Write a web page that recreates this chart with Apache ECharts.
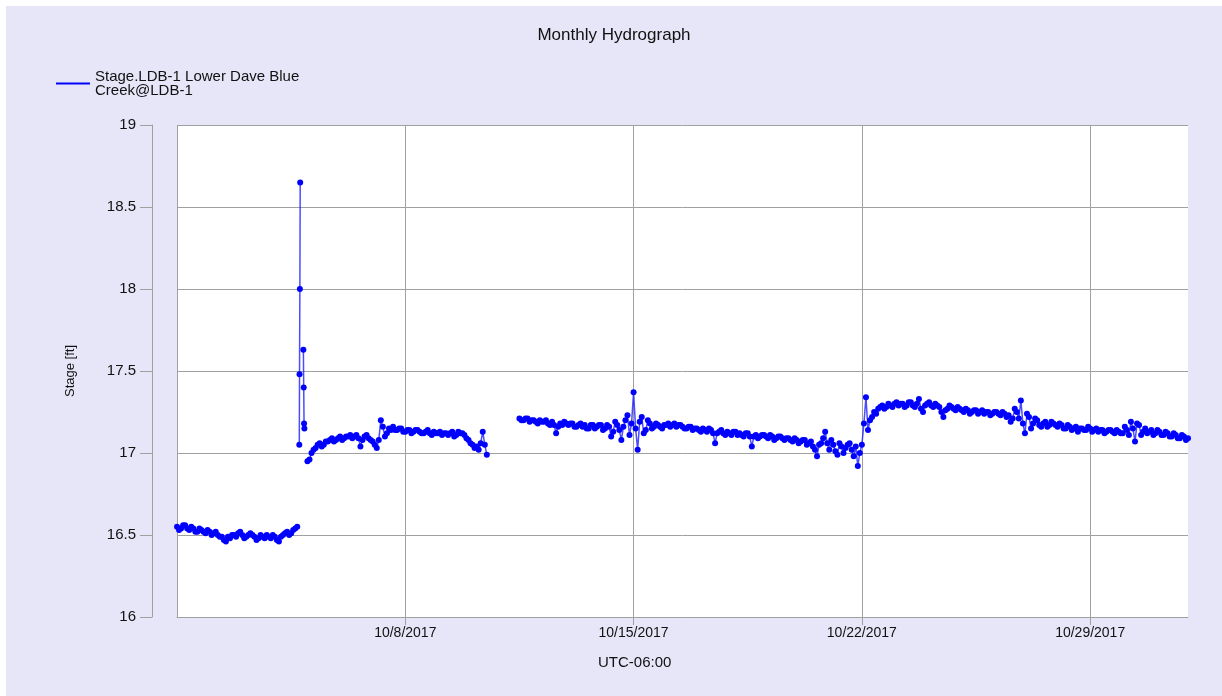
<!DOCTYPE html>
<html>
<head>
<meta charset="utf-8">
<title>Monthly Hydrograph</title>
<script src="https://cdn.jsdelivr.net/npm/echarts@6/dist/echarts.min.js"></script>
<style>
  html, body { margin: 0; padding: 0; background: #fff; }
  #chart { position: absolute; left: 6px; top: 6px; width: 1216px; height: 690px; }
</style>
</head>
<body>
<div id="chart"></div>
<script>
// 数据：3小时间隔的水位读数 (ft)，Mid 为中间 1.5 小时处的读数
const seriesName = 'Stage.LDB-1 Lower Dave Blue\nCreek@LDB-1'
const stepHours = 3

const seg1Start = '2017-10-01T00:00:00Z'
const seg1Values = [
  16.55, 16.54, 16.56, 16.53, 16.54, 16.52, 16.53, 16.51,
  16.52, 16.51, 16.50, 16.49, 16.46, 16.48, 16.50, 16.51,
  16.50, 16.49, 16.51, 16.49, 16.48, 16.49, 16.50, 16.48,
  16.49, 16.46, 16.50, 16.52, 16.51, 16.54
]
const seg1Mid = [
  16.53, 16.56, 16.54, 16.55, 16.52, 16.54, 16.52, 16.53,
  16.50, 16.52, 16.49, 16.47, 16.49, 16.50, 16.49, 16.52,
  16.48, 16.50, 16.50, 16.47, 16.50, 16.48, 16.49, 16.50,
  16.47, 16.49, 16.51, 16.50, 16.53, 16.55
]

// 尖峰
const spikeATimes = ['2017-10-04T18:00:00Z', '2017-10-04T18:10:00Z', '2017-10-04T18:25:00Z', '2017-10-04T18:40:00Z']
const spikeAValues = [17.05, 17.48, 18.00, 18.65]
const spikeBTimes = ['2017-10-04T21:00:00Z', '2017-10-04T21:15:00Z', '2017-10-04T21:30:00Z', '2017-10-04T21:45:00Z']
const spikeBValues = [17.63, 17.40, 17.18, 17.15]

const seg2Start = '2017-10-05T00:00:00Z'
const seg2Values = [
  16.95, 17.00, 17.03, 17.06, 17.05, 17.07, 17.09, 17.08,
  17.10, 17.09, 17.10, 17.09, 17.11, 17.04, 17.10, 17.09,
  17.07, 17.03, 17.20, 17.10, 17.15, 17.16, 17.14, 17.15,
  17.13, 17.14, 17.13, 17.14, 17.12, 17.13, 17.12, 17.13,
  17.12, 17.11, 17.12, 17.12, 17.10, 17.13, 17.12, 17.09,
  17.06, 17.03, 17.02, 17.13, 16.99
]
const seg2Mid = [
  16.96, 17.02, 17.05, 17.04, 17.07, 17.08, 17.07, 17.09,
  17.08, 17.10, 17.11, 17.10, 17.09, 17.08, 17.11, 17.08,
  17.05, 17.08, 17.16, 17.12, 17.14, 17.14, 17.15, 17.13,
  17.14, 17.12, 17.14, 17.13, 17.12, 17.14, 17.11, 17.12,
  17.13, 17.12, 17.11, 17.13, 17.11, 17.12, 17.11, 17.08,
  17.05, 17.04, 17.06, 17.05
]

const seg3Start = '2017-10-11T12:00:00Z'
const seg3Values = [
  17.21, 17.20, 17.21, 17.20, 17.19, 17.20, 17.19, 17.18, 17.19, 17.12,
  17.18, 17.19, 17.17, 17.18, 17.16, 17.18, 17.17, 17.15, 17.17, 17.16,
  17.17, 17.15, 17.16, 17.13, 17.17, 17.08, 17.20, 17.11, 17.37, 17.02,
  17.22, 17.14, 17.18, 17.16, 17.17, 17.15, 17.17, 17.16, 17.18, 17.17,
  17.16, 17.15, 17.16, 17.15, 17.14, 17.15, 17.13, 17.14, 17.06, 17.13,
  17.12, 17.13, 17.11, 17.13, 17.12, 17.10, 17.12, 17.04, 17.11, 17.10,
  17.11, 17.09, 17.10, 17.09, 17.10, 17.08, 17.09, 17.07, 17.08, 17.07,
  17.08, 17.06, 17.04, 16.98, 17.06, 17.13, 17.02, 17.05, 16.99, 17.04,
  17.03, 17.06, 16.98, 16.92, 17.05, 17.34, 17.20, 17.25, 17.27, 17.29,
  17.28, 17.29, 17.30, 17.29, 17.30, 17.29, 17.31, 17.28, 17.33, 17.25,
  17.30, 17.29, 17.30, 17.28, 17.22, 17.27, 17.28, 17.26, 17.27, 17.25,
  17.26, 17.25, 17.26, 17.25, 17.24, 17.25, 17.24, 17.25, 17.23, 17.24,
  17.23, 17.21, 17.25, 17.32, 17.12, 17.22, 17.18, 17.20, 17.16, 17.19,
  17.17, 17.18, 17.16, 17.17, 17.15, 17.16, 17.15, 17.13, 17.15, 17.14,
  17.15, 17.14, 17.13, 17.14, 17.13, 17.14, 17.12, 17.13, 17.12, 17.14,
  17.19, 17.07, 17.17, 17.13, 17.12, 17.14, 17.12, 17.13, 17.11, 17.12,
  17.10, 17.11, 17.09, 17.10, 17.09
]
const seg3Mid = [
  17.20, 17.21, 17.19, 17.20, 17.18, 17.19, 17.20, 17.17, 17.17, 17.16,
  17.17, 17.18, 17.18, 17.16, 17.17, 17.16, 17.15, 17.17, 17.15, 17.17,
  17.14, 17.17, 17.10, 17.19, 17.14, 17.16, 17.23, 17.18, 17.15, 17.19,
  17.12, 17.20, 17.15, 17.18, 17.16, 17.17, 17.18, 17.17, 17.16, 17.17,
  17.15, 17.16, 17.14, 17.15, 17.13, 17.14, 17.15, 17.12, 17.12, 17.14,
  17.11, 17.12, 17.13, 17.11, 17.11, 17.12, 17.10, 17.10, 17.09, 17.11,
  17.10, 17.11, 17.08, 17.10, 17.09, 17.09, 17.08, 17.09, 17.06, 17.08,
  17.05, 17.07, 17.02, 17.05, 17.09, 17.06, 17.08, 17.01, 17.06, 17.00,
  17.05, 17.02, 17.04, 17.00, 17.18, 17.14, 17.22, 17.24, 17.28, 17.27,
  17.30, 17.28, 17.31, 17.30, 17.28, 17.31, 17.29, 17.30, 17.27, 17.29,
  17.31, 17.28, 17.29, 17.25, 17.26, 17.29, 17.27, 17.28, 17.26, 17.27,
  17.24, 17.26, 17.24, 17.26, 17.25, 17.23, 17.25, 17.24, 17.25, 17.22,
  17.19, 17.27, 17.21, 17.18, 17.24, 17.15, 17.21, 17.17, 17.18, 17.16,
  17.19, 17.17, 17.18, 17.15, 17.17, 17.14, 17.16, 17.15, 17.14, 17.16,
  17.13, 17.15, 17.14, 17.12, 17.14, 17.13, 17.14, 17.12, 17.16, 17.11,
  17.15, 17.18, 17.11, 17.15, 17.13, 17.11, 17.14, 17.11, 17.13, 17.10,
  17.12, 17.09, 17.11, 17.08
]

const yTicks = [16, 16.5, 17, 17.5, 18, 18.5, 19]
const xMin = Date.parse('2017-10-01T00:00:00Z')
const xMax = Date.parse('2017-11-01T00:00:00Z')
const week = 7 * 24 * 3600 * 1000

// 拼接成 [时间, 值]，段与段之间用 '-' 断开
const data = []
function addRegular(start, values, mids) {
  const t0 = Date.parse(start)
  const step = stepHours * 3600 * 1000
  values.forEach((v, i) => {
    data.push([t0 + i * step, v])
    if (mids[i] !== undefined) data.push([t0 + i * step + step / 2, mids[i]])
  })
}
function addList(times, values) {
  times.forEach((t, i) => data.push([Date.parse(t), values[i]]))
}
function gap() {
  data.push([data[data.length - 1][0] + 60000, '-'])
}
addRegular(seg1Start, seg1Values, seg1Mid); gap()
addList(spikeATimes, spikeAValues); gap()
addList(spikeBTimes, spikeBValues); gap()
addRegular(seg2Start, seg2Values, seg2Mid); gap()
addRegular(seg3Start, seg3Values, seg3Mid)

const gray = '#a0a0a0'
const font = 'Liberation Sans, Arial, sans-serif'
const hideLast = [gray, gray, gray, gray, gray, 'rgba(0,0,0,0)']

const myChart = echarts.init(document.getElementById('chart'))
const option = {
  backgroundColor: '#e6e6f8',
  animation: false,
  title: {
    text: 'Monthly Hydrograph',
    left: 'center',
    top: 16,
    textStyle: { fontSize: 17, fontWeight: 'normal', color: '#111', fontFamily: font }
  },
  legend: {
    left: 45,
    top: 58,
    icon: 'rect',
    itemWidth: 34,
    itemHeight: 2,
    textStyle: { fontSize: 15, lineHeight: 14, color: '#111', fontFamily: font },
    data: [seriesName]
  },
  grid: {
    left: 171,
    top: 119,
    width: 1011,
    height: 492,
    show: true,
    backgroundColor: '#fff',
    borderWidth: 0
  },
  xAxis: {
    type: 'value',
    min: xMin,
    max: xMax,
    interval: week,
    axisLine: { show: true, lineStyle: { color: gray } },
    axisTick: { show: true, length: 8, lineStyle: { color: hideLast } },
    axisLabel: {
      margin: 9,
      fontSize: 14,
      color: '#111',
      fontFamily: font,
      showMinLabel: false,
      showMaxLabel: false,
      formatter(v) {
        if (v <= xMin || v >= xMax) return ''
        const d = new Date(v)
        return (d.getUTCMonth() + 1) + '/' + d.getUTCDate() + '/' + d.getUTCFullYear()
      }
    },
    splitLine: { show: true, lineStyle: { color: hideLast, width: 1 } }
  },
  yAxis: {
    type: 'value',
    min: yTicks[0],
    max: yTicks[yTicks.length - 1],
    interval: 0.5,
    offset: 25,
    name: 'Stage [ft]',
    nameLocation: 'middle',
    nameGap: 75,
    nameTextStyle: { fontSize: 13, color: '#111', fontFamily: 'Liberation Sans Narrow, ' + font },
    axisLine: { show: true, lineStyle: { color: gray } },
    axisTick: { show: true, length: 12, lineStyle: { color: gray } },
    axisLabel: { margin: 16, fontSize: 15, color: '#111', fontFamily: font },
    splitLine: { show: true, lineStyle: { color: gray, width: 1 } }
  },
  graphic: [{
    type: 'text',
    left: 592,
    top: 649,
    style: { text: 'UTC-06:00', fontSize: 15, fill: '#111', fontFamily: font }
  }],
  series: [{
    name: seriesName,
    type: 'line',
    data,
    showAllSymbol: true,
    symbol: 'circle',
    symbolSize: 6,
    connectNulls: false,
    itemStyle: { color: '#0000ff' },
    lineStyle: { color: 'rgba(30,30,255,0.8)', width: 1.5 },
    emphasis: { disabled: true }
  }]
}
myChart.setOption(option)
</script>
</body>
</html>
